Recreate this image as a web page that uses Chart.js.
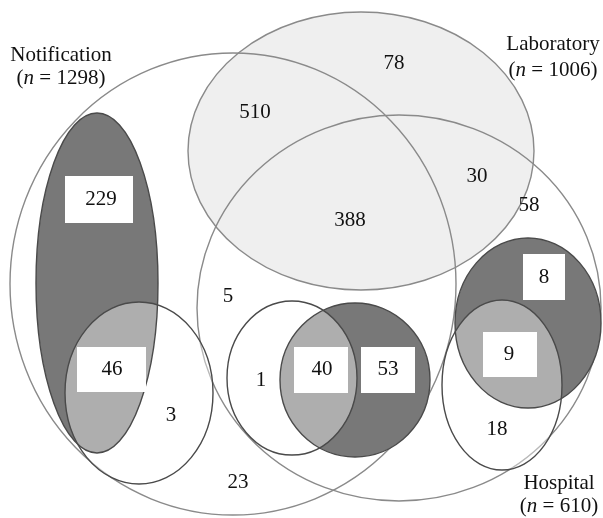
<!DOCTYPE html>
<html>
<head>
<meta charset="utf-8">
<script src="https://cdn.jsdelivr.net/npm/chart.js@4.4.1/dist/chart.umd.min.js"></script>
<style>
  html, body { margin: 0; padding: 0; background: #fff; }
  #wrap { width: 603px; height: 518px; }
</style>
</head>
<body>
<div id="wrap"><canvas id="venn"></canvas></div>
<script>
// set names and sizes
const setNames = ['Notification', 'Laboratory', 'Hospital'];
const setTotals = [1298, 1006, 610];

// counts per region (plain ones, then the boxed ones)
const plainCounts = [78, 510, 388, 30, 58, 5, 3, 1, 23, 18];
const boxedCounts = [229, 46, 40, 53, 8, 9];

// ---- layout (diagram units, same as the 603x518 frame) ----
const bigShapes = [
    { cx: 233, cy: 284, rx: 223, ry: 231 },   // Notification
    { cx: 361, cy: 151, rx: 173, ry: 139 },   // Laboratory
    { cx: 399, cy: 308, rx: 202, ry: 193 }    // Hospital
];
const darkShapes = [
    { cx: 97, cy: 283, rx: 61, ry: 170 },
    { cx: 355, cy: 380, rx: 75, ry: 77 },
    { cx: 528, cy: 323, rx: 73, ry: 85 }
];
const lightShapes = [
    { cx: 139, cy: 393, rx: 74, ry: 91 },
    { cx: 292, cy: 378, rx: 65, ry: 77 },
    { cx: 502, cy: 385, rx: 60, ry: 85 }
];
const plainPos = [[394, 63], [255, 112], [350, 220], [477, 176], [529, 205],
                  [228, 296], [171, 415], [261, 380], [238, 482], [497, 429]];
const boxes = [
    { x0: 65, x1: 133, y0: 176, y1: 223, tx: 101, ty: 199 },
    { x0: 77, x1: 146, y0: 347, y1: 392, tx: 112, ty: 369 },
    { x0: 294, x1: 348, y0: 347, y1: 393, tx: 322, ty: 369 },
    { x0: 361, x1: 415, y0: 347, y1: 393, tx: 388, ty: 369 },
    { x0: 523, x1: 565, y0: 254, y1: 300, tx: 544, ty: 277 },
    { x0: 483, x1: 537, y0: 332, y1: 377, tx: 509, ty: 354 }
];
const titlePos = [[61, 61, 84], [553, 50, 76], [559, 489, 512]];

const FONT = '21px "Liberation Serif", "Times New Roman", serif';
const FONT_I = 'italic 21px "Liberation Serif", "Times New Roman", serif';

function ellipsePath(ctx, sx, sy, s) {
    const cx = sx.getPixelForValue(s.cx), cy = sy.getPixelForValue(s.cy);
    const rx = Math.abs(sx.getPixelForValue(s.cx + s.rx) - cx);
    const ry = Math.abs(sy.getPixelForValue(s.cy + s.ry) - cy);
    ctx.beginPath();
    ctx.ellipse(cx, cy, rx, ry, 0, 0, Math.PI * 2);
}

const vennPlugin = {
    id: 'venn',
    beforeDatasetsDraw(chart) {
        const ctx = chart.ctx, sx = chart.scales.x, sy = chart.scales.y;
        ctx.save();
        // laboratory fill
        ellipsePath(ctx, sx, sy, bigShapes[1]);
        ctx.fillStyle = '#efefef';
        ctx.fill();
        // big outlines
        ctx.strokeStyle = '#8a8a8a';
        ctx.lineWidth = 1.4;
        bigShapes.forEach(s => { ellipsePath(ctx, sx, sy, s); ctx.stroke(); });
        // dark ones
        ctx.fillStyle = '#787878';
        darkShapes.forEach(s => { ellipsePath(ctx, sx, sy, s); ctx.fill(); });
        // light ones wash over the dark
        ctx.fillStyle = 'rgba(255,255,255,0.4)';
        lightShapes.forEach(s => { ellipsePath(ctx, sx, sy, s); ctx.fill(); });
        ctx.strokeStyle = '#4a4a4a';
        ctx.lineWidth = 1.4;
        darkShapes.concat(lightShapes).forEach(s => { ellipsePath(ctx, sx, sy, s); ctx.stroke(); });
        ctx.restore();
    },
    afterDatasetsDraw(chart) {
        const ctx = chart.ctx, sx = chart.scales.x, sy = chart.scales.y;
        ctx.save();
        ctx.fillStyle = '#111';
        ctx.font = FONT;
        ctx.textAlign = 'center';
        ctx.textBaseline = 'middle';
        plainCounts.forEach((v, i) => {
            ctx.fillText(String(v), sx.getPixelForValue(plainPos[i][0]), sy.getPixelForValue(plainPos[i][1]));
        });
        boxedCounts.forEach((v, i) => {
            const b = boxes[i];
            const x0 = sx.getPixelForValue(b.x0), x1 = sx.getPixelForValue(b.x1);
            const y0 = sy.getPixelForValue(b.y0), y1 = sy.getPixelForValue(b.y1);
            ctx.fillStyle = '#fff';
            ctx.fillRect(x0, y0, x1 - x0, y1 - y0);
            ctx.fillStyle = '#111';
            ctx.fillText(String(v), sx.getPixelForValue(b.tx), sy.getPixelForValue(b.ty));
        });
        // set titles
        ctx.textBaseline = 'alphabetic';
        setNames.forEach((name, i) => {
            const p = titlePos[i];
            const cx = sx.getPixelForValue(p[0]);
            ctx.font = FONT;
            ctx.textAlign = 'center';
            ctx.fillText(name, cx, sy.getPixelForValue(p[1]));
            // "(n = total)" with italic n
            const a = '(', b = 'n', c = ' = ' + setTotals[i] + ')';
            const wa = ctx.measureText(a).width, wc = ctx.measureText(c).width;
            ctx.font = FONT_I;
            const wb = ctx.measureText(b).width;
            let x = cx - (wa + wb + wc) / 2;
            const y = sy.getPixelForValue(p[2]);
            ctx.textAlign = 'left';
            ctx.font = FONT;
            ctx.fillText(a, x, y);
            ctx.font = FONT_I;
            ctx.fillText(b, x + wa, y);
            ctx.font = FONT;
            ctx.fillText(c, x + wa + wb, y);
        });
        ctx.restore();
    }
};

new Chart(document.getElementById('venn'), {
    type: 'scatter',
    data: {
        datasets: [{
            label: 'regions',
            data: plainPos.map(p => ({ x: p[0], y: p[1] })),
            pointRadius: 0
        }]
    },
    options: {
        responsive: true,
        maintainAspectRatio: false,
        animation: false,
        layout: { padding: 0 },
        scales: {
            x: { type: 'linear', min: 0, max: 603, display: false },
            y: { type: 'linear', min: 0, max: 518, reverse: true, display: false }
        },
        plugins: {
            legend: { display: false },
            tooltip: { enabled: false }
        }
    },
    plugins: [vennPlugin]
});
</script>
</body>
</html>
